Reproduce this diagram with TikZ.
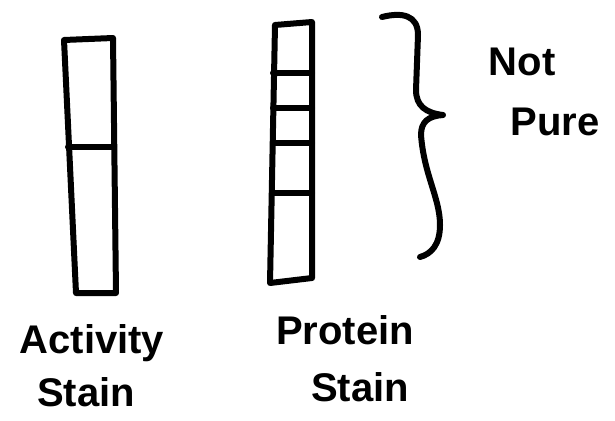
\documentclass[tikz,border=0pt]{standalone}
\usepackage{fontspec}
\setmainfont{Liberation Sans}
\begin{document}
\begin{tikzpicture}[x=1pt,y=-1pt,
  ink/.style={line width=6pt,line join=round,line cap=round,black},
  label/.style={font=\bfseries\fontsize{40}{44}\selectfont,inner sep=0pt,anchor=center}]
\useasboundingbox (0,0) rectangle (615,420);
% activity gel
\draw[ink] (64,40) -- (113,38) -- (116,293) -- (76,293) -- cycle;
\draw[ink] (68,147) -- (114,147);
% protein gel
\draw[ink] (275,25) -- (312,22) -- (312,278) -- (270,283) -- cycle;
\foreach \yy in {73,108,143,193}{\draw[ink] (273,\yy) -- (312,\yy);}
% brace
\draw[ink] (382,17) .. controls (402,12) and (418,15) .. (418,35)
  -- (416,90) .. controls (416,106) and (426,113) .. (443,115)
  .. controls (428,116) and (421,122) .. (421,135)
  .. controls (424,175) and (440,198) .. (440,225)
  .. controls (440,245) and (431,254) .. (420,257);
\node[label] (notpure1) at (522,62) {Not};
\node[label] (notpure2) at (555,122) {Pure};
\node[label] (act1) at (92,343) {Activity};
\node[label] (act2) at (86,392) {Stain};
\node[label] (prot1) at (345,330) {Protein};
\node[label] (prot2) at (360,387) {Stain};
\end{tikzpicture}
\end{document}
